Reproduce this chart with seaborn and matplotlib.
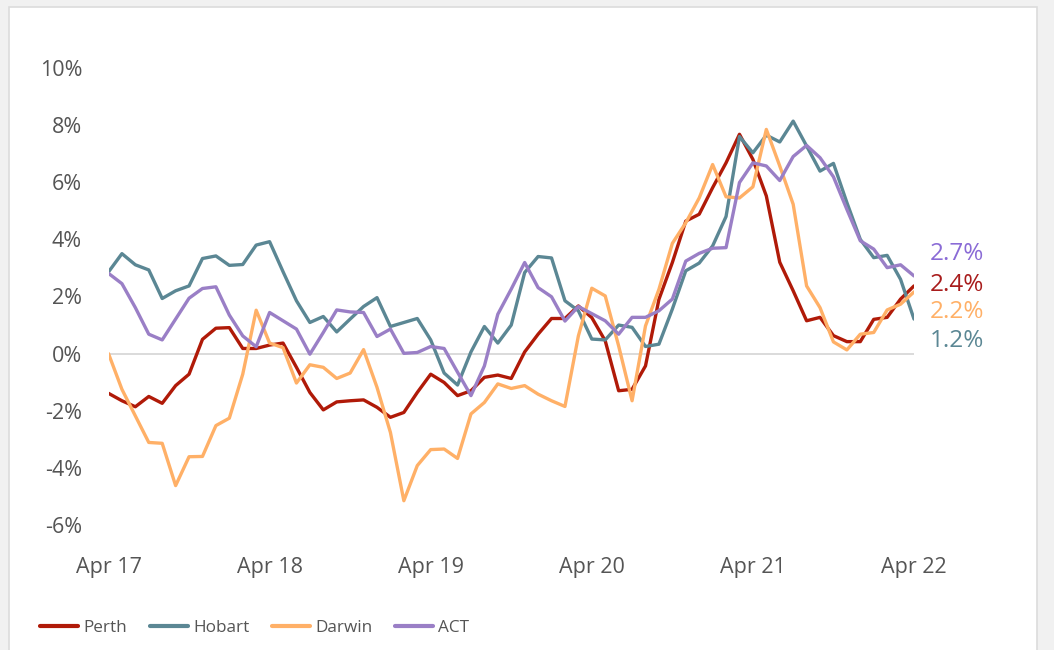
import numpy as np
import pandas as pd
import matplotlib
matplotlib.use("Agg")
import matplotlib.pyplot as plt
from matplotlib.patches import Rectangle
from matplotlib.lines import Line2D
import seaborn as sns

months = list(range(61))
tick_pos = [0, 12, 24, 36, 48, 60]
tick_labels = ["Apr 17", "Apr 18", "Apr 19", "Apr 20", "Apr 21", "Apr 22"]
y_ticks = [-6, -4, -2, 0, 2, 4, 6, 8, 10]

perth = [-1.39, -1.65, -1.86, -1.50, -1.74, -1.12, -0.72, 0.50, 0.89, 0.91,
         0.18, 0.18, 0.30, 0.37, -0.48, -1.36, -1.97, -1.69, -1.65, -1.62,
         -1.88, -2.23, -2.06, -1.36, -0.72, -1.01, -1.47, -1.30, -0.83, -0.75,
         -0.87, 0.06, 0.68, 1.23, 1.23, 1.67, 1.26, 0.45, -1.30, -1.25,
         -0.43, 1.90, 3.19, 4.64, 4.88, 5.81, 6.68, 7.68, 6.80, 5.52,
         3.20, 2.20, 1.15, 1.27, 0.63, 0.42, 0.42, 1.20, 1.27, 1.91, 2.37]
hobart = [2.86, 3.50, 3.11, 2.93, 1.93, 2.20, 2.37, 3.33, 3.42, 3.09,
          3.12, 3.80, 3.92, 2.87, 1.85, 1.09, 1.30, 0.76, 1.21, 1.65,
          1.96, 0.95, 1.09, 1.23, 0.48, -0.68, -1.10, 0.06, 0.95, 0.37,
          1.00, 2.84, 3.40, 3.35, 1.85, 1.50, 0.51, 0.48, 1.00, 0.92,
          0.25, 0.33, 1.56, 2.90, 3.17, 3.77, 4.80, 7.60, 7.03, 7.65,
          7.41, 8.14, 7.27, 6.39, 6.66, 5.29, 4.00, 3.36, 3.44, 2.60, 1.21]
darwin = [0.00, -1.25, -2.18, -3.11, -3.14, -4.62, -3.61, -3.60, -2.52, -2.26,
          -0.72, 1.52, 0.37, 0.21, -1.03, -0.39, -0.48, -0.87, -0.68, 0.14,
          -1.18, -2.76, -5.15, -3.92, -3.36, -3.34, -3.67, -2.11, -1.71, -1.06,
          -1.22, -1.12, -1.42, -1.65, -1.85, 0.62, 2.29, 2.02, 0.27, -1.65,
          0.97, 2.25, 3.86, 4.58, 5.45, 6.62, 5.49, 5.45, 5.84, 7.85,
          6.57, 5.23, 2.37, 1.61, 0.41, 0.13, 0.68, 0.74, 1.53, 1.73, 2.16]
act = [2.81, 2.45, 1.61, 0.68, 0.48, 1.21, 1.94, 2.28, 2.34, 1.35,
       0.62, 0.24, 1.44, 1.15, 0.86, -0.02, 0.74, 1.53, 1.46, 1.44,
       0.60, 0.86, 0.01, 0.04, 0.25, 0.18, -0.65, -1.47, -0.43, 1.38,
       2.26, 3.19, 2.31, 1.99, 1.14, 1.65, 1.40, 1.15, 0.68, 1.27,
       1.27, 1.50, 1.91, 3.24, 3.51, 3.69, 3.71, 5.99, 6.68, 6.57,
       6.06, 6.90, 7.29, 6.86, 6.19, 5.05, 3.95, 3.66, 3.01, 3.11, 2.72]

series_names = ["Perth", "Hobart", "Darwin", "ACT"]
end_labels = ["2.4%", "1.2%", "2.2%", "2.7%"]
end_label_y = [2.4, 0.45, 1.45, 3.5]

colors = {"Perth": "#b01a08", "Hobart": "#5b8794", "Darwin": "#ffb067", "ACT": "#9a7fc6"}
label_colors = {"Perth": "#a81c1c", "Hobart": "#5b8794", "Darwin": "#ffb067", "ACT": "#8a6bd6"}

df = pd.DataFrame({
    "month": months * 4,
    "value": perth + hobart + darwin + act,
    "city": sum([[n] * 61 for n in series_names], []),
})

sns.set_theme(style="white")
plt.rcParams["font.family"] = ["Open Sans", "DejaVu Sans"]

fig = plt.figure(figsize=(10.54, 6.5), dpi=100)
fig.patch.set_facecolor("#f1f1f1")
card = Rectangle((9 / 1054, -0.01), (1037 - 9) / 1054, 1.01 - 7 / 650, transform=fig.transFigure,
                 facecolor="white", edgecolor="#dcdcdc", linewidth=1.2, zorder=-10)
fig.add_artist(card)

ax = fig.add_axes([108.5 / 1054, 125 / 650, (914 - 108.5) / 1054, (525 - 68) / 650])
ax.set_facecolor("none")
ax.set_zorder(5)
ax.axhline(0, color="#d4d4d4", lw=1.2, zorder=1)
sns.lineplot(data=df, x="month", y="value", hue="city", palette=colors,
             hue_order=series_names, lw=2.4, ax=ax, legend=False, zorder=3)

ax.set_xlim(0, 60)
ax.set_ylim(-6, 10)
ax.set_xticks(tick_pos)
ax.set_xticklabels(tick_labels)
ax.set_yticks(y_ticks)
ax.set_yticklabels([f"{v}%" for v in y_ticks])
ax.tick_params(axis="x", length=0, pad=23, labelsize=15.5, labelcolor="#555555")
ax.tick_params(axis="y", length=0, pad=19, labelsize=15.5, labelcolor="#555555")
ax.set_xlabel("")
ax.set_ylabel("")
for s in ax.spines.values():
    s.set_visible(False)

for name, lab, yv in zip(series_names, end_labels, end_label_y):
    ax.text(61.2, yv, lab, color=label_colors[name], fontsize=17.5, va="center", ha="left",
            clip_on=False)

handles = [Line2D([0], [0], color=colors[n], lw=3, solid_capstyle="round") for n in series_names]
leg = fig.legend(handles, series_names, loc="center left", bbox_to_anchor=(40 / 1054, 1 - 628 / 650),
                 ncol=4, frameon=False, fontsize=12.3, handlelength=2.25, handletextpad=0.3,
                 columnspacing=1.3, borderpad=0, borderaxespad=0, labelcolor="#555555")
leg.set_zorder(6)

fig.savefig("out.png", dpi=100, facecolor=fig.get_facecolor())
